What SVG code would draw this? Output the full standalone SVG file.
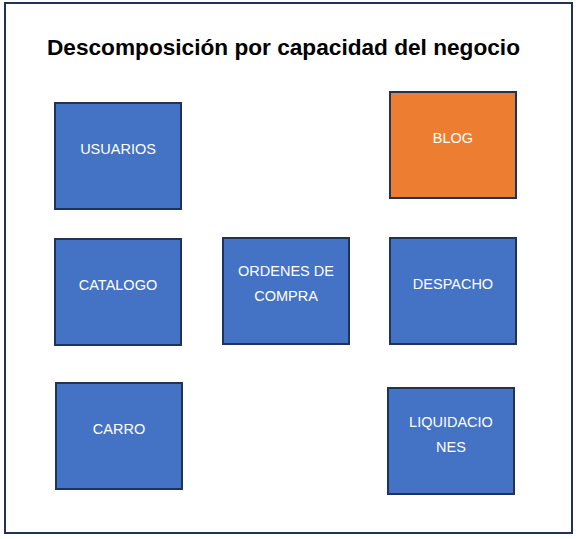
<svg xmlns="http://www.w3.org/2000/svg" width="578" height="539" viewBox="0 0 578 539">
<style>
.box{fill:#4472C4;stroke:#1F3356;stroke-width:2}
.orange{fill:#ED7D31}
.lbl{font-family:"Liberation Sans",Arial,sans-serif;font-size:14.5px;fill:#FFFFFF;text-anchor:middle}
.title{font-family:"Liberation Sans",Arial,sans-serif;font-size:22px;font-weight:bold;fill:#000000;text-anchor:middle}
</style>
<rect x="0" y="0" width="578" height="539" fill="#FFFFFF"/>
<rect id="frame" x="5" y="3" width="567" height="530" fill="#FFFFFF" stroke="#1F3356" stroke-width="2"/>
<text class="title" x="283.5" y="55" textLength="473" lengthAdjust="spacingAndGlyphs">Descomposición por capacidad del negocio</text>
<g id="usuarios"><rect class="box" x="55" y="103" width="126" height="106"/><text class="lbl" x="118" y="154">USUARIOS</text></g>
<g id="blog"><rect class="box orange" x="390" y="92" width="126" height="106"/><text class="lbl" x="453" y="143">BLOG</text></g>
<g id="catalogo"><rect class="box" x="55" y="239" width="126" height="106"/><text class="lbl" x="118" y="290">CATALOGO</text></g>
<g id="ordenes"><rect class="box" x="223" y="238" width="126" height="106"/><text class="lbl" x="286" y="276">ORDENES DE</text><text class="lbl" x="286" y="301">COMPRA</text></g>
<g id="despacho"><rect class="box" x="390" y="238" width="126" height="106"/><text class="lbl" x="453" y="289">DESPACHO</text></g>
<g id="carro"><rect class="box" x="56" y="383" width="126" height="106"/><text class="lbl" x="119" y="434">CARRO</text></g>
<g id="liquidaciones"><rect class="box" x="388" y="388" width="126" height="106"/><text class="lbl" x="451" y="427">LIQUIDACIO</text><text class="lbl" x="451" y="452">NES</text></g>
<g id="connectors"></g>
</svg>
